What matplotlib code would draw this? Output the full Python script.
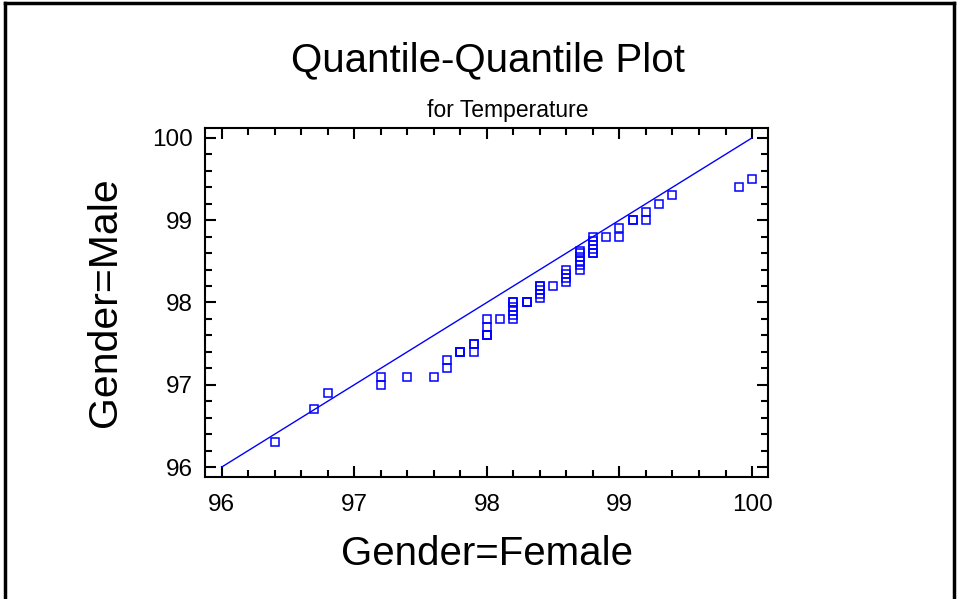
import numpy as np
import matplotlib
matplotlib.use("Agg")
import matplotlib.pyplot as plt
from matplotlib.lines import Line2D
from matplotlib.ticker import MultipleLocator

plt.rcParams['font.family'] = ['Liberation Sans', 'DejaVu Sans']

# quantile pairs (female quantile, male quantile)
female_q = [96.4, 96.7, 96.8, 97.2, 97.2, 97.4, 97.6, 97.7, 97.7,
            97.8, 97.8, 97.8, 97.9, 97.9, 97.9,
            98.0, 98.0, 98.0, 98.0, 98.0, 98.1,
            98.2, 98.2, 98.2, 98.2, 98.2, 98.2, 98.3, 98.3, 98.3,
            98.4, 98.4, 98.4, 98.4, 98.4, 98.5,
            98.6, 98.6, 98.6, 98.6,
            98.7, 98.7, 98.7, 98.7, 98.7, 98.7,
            98.8, 98.8, 98.8, 98.8, 98.8, 98.8,
            98.9, 99.0, 99.0, 99.1, 99.1, 99.2, 99.2,
            99.3, 99.4, 99.9, 100.0]
male_q = [96.3, 96.7, 96.9, 97.0, 97.1, 97.1, 97.1, 97.2, 97.3,
          97.4, 97.4, 97.4, 97.4, 97.5, 97.5,
          97.6, 97.6, 97.6, 97.7, 97.8, 97.8,
          97.8, 97.85, 97.9, 97.95, 98.0, 98.0, 98.0, 98.0, 98.0,
          98.05, 98.1, 98.15, 98.2, 98.2, 98.2,
          98.25, 98.3, 98.35, 98.4,
          98.4, 98.45, 98.5, 98.55, 98.6, 98.62,
          98.6, 98.6, 98.65, 98.7, 98.75, 98.8,
          98.8, 98.8, 98.9, 99.0, 99.0, 99.0, 99.1,
          99.2, 99.3, 99.4, 99.5]
ref_line = [96, 100]
ticks = [96, 97, 98, 99, 100]

blue = (0, 0, 1)

fig = plt.figure(figsize=(9.59, 5.99), dpi=100)
ax = fig.add_axes([0.2138, 0.2037, 0.587, 0.5826])

ax.plot(ref_line, ref_line, color=blue, lw=1.0)
ax.plot(female_q, male_q, ls='none', marker='s', markersize=5.5,
        markerfacecolor='none', markeredgecolor=blue, markeredgewidth=1.1)

ax.set_xlim(95.875, 100.12)
ax.set_ylim(95.88, 100.12)
ax.set_xticks(ticks)
ax.set_yticks(ticks)
ax.xaxis.set_minor_locator(MultipleLocator(0.2))
ax.yaxis.set_minor_locator(MultipleLocator(0.2))
ax.tick_params(which='both', direction='in', top=True, right=True,
               labelsize=17.5, width=1.5)
ax.tick_params(axis='x', pad=12)
ax.tick_params(axis='y', pad=9)
ax.tick_params(which='major', length=8)
ax.tick_params(which='minor', length=5)
for s in ax.spines.values():
    s.set_linewidth(1.5)

ax.set_xlabel('Gender=Female', fontsize=29, labelpad=14)
ax.set_ylabel('Gender=Male', fontsize=29.5, labelpad=20)

fig.text(0.509, 0.9, 'Quantile-Quantile Plot', fontsize=29,
         ha='center', va='center')
fig.text(0.529, 0.815, 'for Temperature', fontsize=16.5,
         ha='center', va='center')

# outer frame (left, top, right)
W, H = 959, 599
fig.add_artist(Line2D([5 / W, 5 / W], [0, 1 - 3 / H], color='black', lw=2.5,
                      transform=fig.transFigure))
fig.add_artist(Line2D([5 / W, 954 / W], [1 - 3 / H, 1 - 3 / H], color='black',
                      lw=2.5, transform=fig.transFigure))
fig.add_artist(Line2D([954 / W, 954 / W], [0, 1 - 3 / H], color='black', lw=2.5,
                      transform=fig.transFigure))

fig.savefig('out.png', dpi=100)
